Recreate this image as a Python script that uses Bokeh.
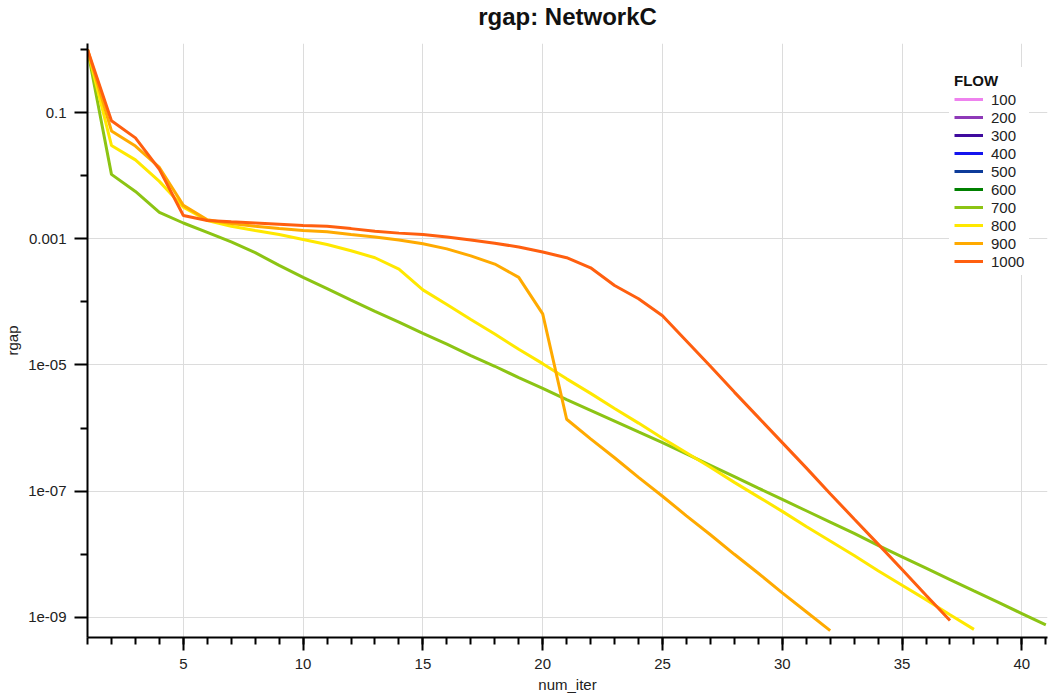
from bokeh.plotting import figure
from bokeh.models import Range1d, FixedTicker, CustomJSTickFormatter, Legend, LegendItem, Title
from bokeh.embed import file_html
from bokeh.resources import INLINE

# ---------------- data ----------------
chart_title = "rgap: NetworkC"
flows = ["100", "200", "300", "400", "500", "600", "700", "800", "900", "1000"]
flow_colors = ["#EE82EE", "#8E39B8", "#3F0A9E", "#1414EE", "#0D3B99",
               "#008000", "#8CC414", "#FFE800", "#FFAA00", "#FF5F0F"]

rgap_700 = [1.0, 1.05e-2, 5.62e-3, 2.63e-3, 1.78e-3, 1.26e-3, 8.91e-4, 6.03e-4, 3.80e-4, 2.45e-4,
            1.62e-4, 1.07e-4, 7.08e-5, 4.79e-5, 3.16e-5, 2.14e-5, 1.41e-5, 9.55e-6, 6.31e-6, 4.27e-6,
            2.82e-6, 1.91e-6, 1.29e-6, 8.71e-7, 5.89e-7, 3.89e-7, 2.57e-7, 1.70e-7, 1.12e-7, 7.41e-8,
            4.90e-8, 3.24e-8, 2.14e-8, 1.38e-8, 9.12e-9, 6.03e-9, 3.98e-9, 2.63e-9, 1.74e-9, 1.15e-9,
            7.59e-10]
rgap_800 = [1.0, 3.02e-2, 1.78e-2, 8.13e-3, 3.16e-3, 1.95e-3, 1.58e-3, 1.35e-3, 1.17e-3, 9.77e-4,
            8.13e-4, 6.46e-4, 5.01e-4, 3.31e-4, 1.55e-4, 9.12e-5, 5.25e-5, 3.09e-5, 1.78e-5, 1.05e-5,
            6.03e-6, 3.55e-6, 2.04e-6, 1.20e-6, 6.92e-7, 4.07e-7, 2.40e-7, 1.38e-7, 8.13e-8, 4.79e-8,
            2.75e-8, 1.62e-8, 9.55e-9, 5.50e-9, 3.24e-9, 1.91e-9, 1.10e-9, 6.46e-10]
rgap_900 = [1.0, 5.13e-2, 2.95e-2, 1.35e-2, 3.39e-3, 2.00e-3, 1.74e-3, 1.58e-3, 1.45e-3, 1.35e-3,
            1.29e-3, 1.17e-3, 1.07e-3, 9.55e-4, 8.32e-4, 6.92e-4, 5.37e-4, 3.98e-4, 2.45e-4, 6.46e-5,
            1.38e-6, 6.76e-7, 3.39e-7, 1.66e-7, 8.32e-8, 4.07e-8, 2.04e-8, 1.00e-8, 5.01e-9, 2.45e-9,
            1.23e-9, 6.17e-10]
rgap_1000 = [1.0, 7.41e-2, 3.98e-2, 1.26e-2, 2.34e-3, 1.95e-3, 1.86e-3, 1.78e-3, 1.70e-3, 1.62e-3,
             1.58e-3, 1.45e-3, 1.32e-3, 1.23e-3, 1.17e-3, 1.07e-3, 9.55e-4, 8.51e-4, 7.41e-4, 6.17e-4,
             5.01e-4, 3.47e-4, 1.82e-4, 1.12e-4, 6.03e-5, 2.40e-5, 9.55e-6, 3.72e-6, 1.48e-6, 5.89e-7,
             2.34e-7, 9.12e-8, 3.63e-8, 1.45e-8, 5.75e-9, 2.24e-9, 8.91e-10]

# flows 100-600 have no plotted values in this chart (legend entries only)
NAN = float("nan")
series = {
    "100": [NAN], "200": [NAN], "300": [NAN], "400": [NAN], "500": [NAN], "600": [NAN],
    "700": rgap_700, "800": rgap_800, "900": rgap_900, "1000": rgap_1000,
}

x_major_ticks = [5, 10, 15, 20, 25, 30, 35, 40]
x_minor_ticks = list(range(1, 42))
y_tick_values = [1e-1, 1e-3, 1e-5, 1e-7, 1e-9]
y_tick_labels = ["0.1", "0.001", "1e-05", "1e-07", "1e-09"]
y_minor_ticks = [1.0, 1e-2, 1e-4, 1e-6, 1e-8]

FONT = "Liberation Sans"
TXT = "#222222"

# ---------------- figure ----------------
p = figure(width=1049, height=697, y_axis_type="log",
           x_range=Range1d(1, 41.07), y_range=Range1d(4.8e-10, 1.245),
           output_backend="svg", toolbar_location=None,
           x_axis_label="num_iter", y_axis_label="rgap")
p.min_border_left = 87
p.min_border_right = 2
p.min_border_top = 43
p.min_border_bottom = 60
p.outline_line_color = None
p.background_fill_color = "white"
p.border_fill_color = "white"

# spacer between frame and title (pushes the title up)
p.add_layout(Title(text=" ", text_font_size="1px", standoff=7), "above")
p.add_layout(Title(text=chart_title, align="center", vertical_align="top",
                   text_font=FONT, text_font_size="24px", text_font_style="bold",
                   text_color="#111111", offset=3, standoff=4), "above")

for ax in (p.xaxis[0], p.yaxis[0]):
    ax.axis_line_width = 2
    ax.axis_line_color = "black"
    ax.major_tick_line_width = 2
    ax.minor_tick_line_width = 2
    ax.major_tick_line_color = "black"
    ax.minor_tick_line_color = "black"
    ax.major_tick_in = 0
    ax.major_tick_out = 13
    ax.minor_tick_in = 0
    ax.minor_tick_out = 7
    ax.major_label_text_font = FONT
    ax.major_label_text_font_size = "15px"
    ax.major_label_text_color = TXT
    ax.axis_label_text_font = FONT
    ax.axis_label_text_font_size = "15px"
    ax.axis_label_text_font_style = "normal"
    ax.axis_label_text_color = TXT
    ax.major_label_standoff = 8
    ax.axis_label_standoff = 4

p.xaxis[0].ticker = FixedTicker(ticks=x_major_ticks, minor_ticks=x_minor_ticks)
p.yaxis[0].ticker = FixedTicker(ticks=y_tick_values, minor_ticks=y_minor_ticks)
p.yaxis[0].formatter = CustomJSTickFormatter(
    args=dict(vals=y_tick_values, labels=y_tick_labels),
    code="""
    for (let i = 0; i < vals.length; i++) {
        if (Math.abs(Math.log10(tick) - Math.log10(vals[i])) < 0.01) return labels[i];
    }
    return '';
    """)

p.xgrid.grid_line_color = "#DCDCDC"
p.ygrid.grid_line_color = "#DCDCDC"
p.xgrid.grid_line_width = 1
p.ygrid.grid_line_width = 1

items = []
for flow, color in zip(flows, flow_colors):
    vals = series[flow]
    xs = list(range(1, len(vals) + 1))
    r = p.line(xs, vals, line_color=color, line_width=3)
    items.append(LegendItem(label=flow, renderers=[r]))

legend = Legend(items=items, location=(862, 362), title="FLOW")
legend.title_text_font = FONT
legend.title_text_font_size = "15px"
legend.title_text_font_style = "bold"
legend.title_text_color = "#111111"
legend.title_standoff = 1
legend.label_text_font = FONT
legend.label_text_font_size = "15px"
legend.label_text_color = TXT
legend.glyph_width = 29
legend.glyph_height = 18
legend.label_height = 18
legend.spacing = 0
legend.padding = 5
legend.margin = 0
legend.label_standoff = 8
legend.border_line_alpha = 0
legend.background_fill_color = "white"
legend.background_fill_alpha = 1
p.add_layout(legend)

open("out.html", "w").write(file_html(p, INLINE))
